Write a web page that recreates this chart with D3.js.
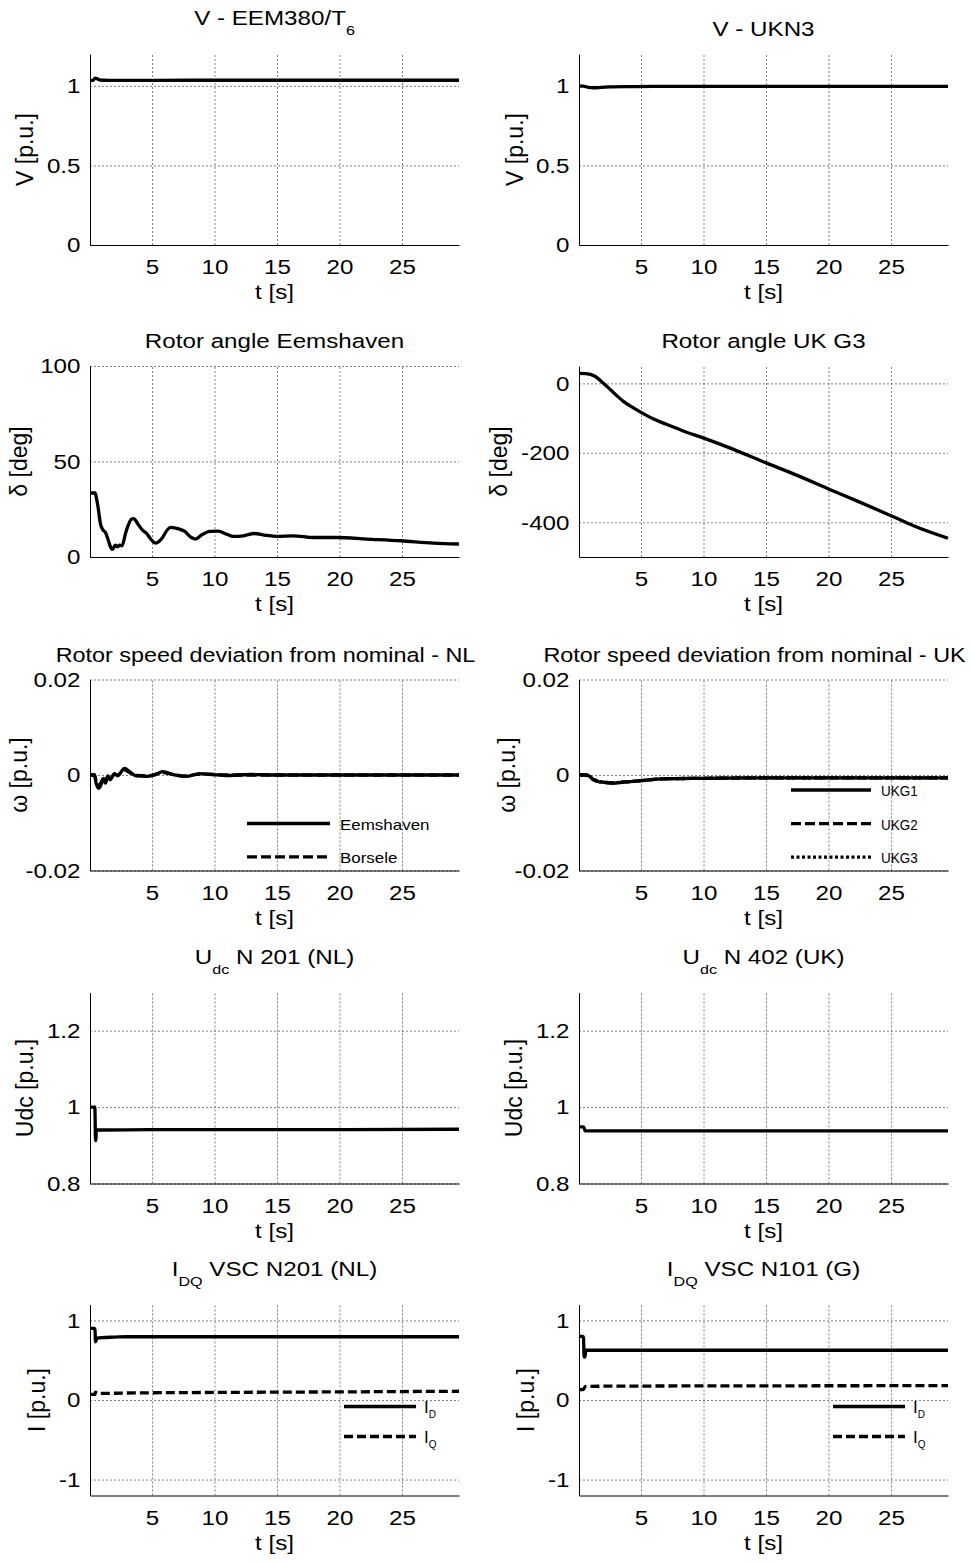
<!DOCTYPE html>
<html>
<head>
<meta charset="utf-8">
<script src="https://cdn.jsdelivr.net/npm/d3@7"></script>
<style>
body { margin: 0; background: #fff; }
text, tspan { font-family: Arial, "Liberation Sans", sans-serif; fill: #000; }
</style>
</head>
<body>
<svg id="fig" width="973" height="1565"></svg>
<script>
// ---------- data ----------
// time axis (s)
var tDomain = [0.04, 29.56];
var tTicks = [5, 10, 15, 20, 25];

// V - EEM380/T6
var tVeem = [0.04, 0.3, 0.45, 0.6, 0.8, 1.1, 1.6, 3, 8, 15, 22, 29.56];
var vVeem = [1.032, 1.035, 1.048, 1.045, 1.038, 1.035, 1.034, 1.034, 1.035, 1.035, 1.035, 1.035];
// V - UKN3
var tVuk = [0.04, 0.4, 0.8, 1.2, 1.8, 2.5, 4, 6, 15, 29.56];
var vVuk = [1.0, 0.998, 0.99, 0.988, 0.99, 0.993, 0.995, 0.996, 0.996, 0.996];

// rotor angle Eemshaven (deg)
var tDeltaNL = [0.04, 0.45, 0.55, 0.67, 0.88, 1.07, 1.28, 1.47, 1.74, 1.85, 2.06, 2.27, 2.4, 2.6, 2.9, 3.35, 3.53, 3.88, 4.22, 4.55, 4.95, 5.27, 5.75, 6.28, 6.5, 7.2, 7.6, 8.15, 8.5, 8.96, 9.63, 10.3, 10.96, 11.5, 12.3, 13.2, 14.0, 15.0, 16.3, 17.9, 19.8, 22.2, 24.9, 27.5, 29.56];
var deltaNL = [33.5, 33.5, 31, 26.7, 17.2, 14.2, 12.8, 9.4, 4.5, 4, 6.2, 5.4, 6.2, 5.9, 12.8, 19.8, 20.1, 17.2, 14.2, 12.5, 9.0, 7.3, 9.4, 14.6, 15.5, 14.6, 13.5, 10.2, 9.4, 11.5, 13.4, 13.5, 12, 10.8, 11.1, 12.3, 11.5, 10.8, 11.1, 10.2, 10.2, 9.4, 8.5, 7.3, 6.8];
// rotor angle UK G3 (deg)
var tDeltaUK = [0.04, 0.6, 1.28, 1.95, 2.75, 3.56, 4.36, 4.97, 5.96, 7.03, 8.37, 9.97, 12.4, 15.0, 17.5, 20.0, 22.5, 25.0, 26.8, 29.56];
var deltaUK = [28.8, 28, 21, 2, -25, -51, -70, -83, -102, -118, -137, -157, -190, -229, -265, -304, -342, -381, -410, -446];

// rotor speed deviation NL (p.u.)
var tWNL = [0.04, 0.4, 0.53, 0.72, 0.94, 1.12, 1.28, 1.47, 1.66, 2.0, 2.25, 2.4, 2.8, 3.2, 3.74, 4.55, 5.08, 5.88, 6.68, 7.75, 8.8, 9.9, 11, 13, 15, 29.56];
var wEemshaven = [0, 0, -0.0017, -0.0028, -0.0019, -0.0007, -0.0017, -0.0003, -0.001, 0.0003, -0.0002, 0.0002, 0.0014, 0.0007, -0.0002, -0.0003, -0.0001, 0.0007, 0.0001, -0.0003, 0.0003, 0.0001, -0.0001, 0.0001, 0, 0];
var wBorsele = [0, 0, -0.0013, -0.0022, -0.0015, -0.0006, -0.0013, -0.0002, -0.0008, 0.0002, -0.0001, 0.0002, 0.0011, 0.0005, -0.0001, -0.0002, 0, 0.0005, 0.0001, -0.0002, 0.0002, 0.0001, 0, 0, 0, 0];
// rotor speed deviation UK (p.u.)
var tWUK = [0.04, 0.6, 0.9, 1.15, 1.5, 1.95, 2.75, 3.56, 4.97, 6.76, 10, 15, 20, 29.56];
var wUKG1 = [0, 0, -0.0003, -0.0009, -0.0013, -0.0015, -0.0017, -0.0015, -0.0012, -0.0008, -0.0007, -0.0006, -0.0006, -0.0006];
var wUKG2 = [0, 0, -0.0003, -0.0009, -0.0013, -0.0015, -0.0017, -0.0015, -0.0012, -0.0008, -0.0007, -0.0006, -0.0006, -0.0006];
var wUKG3 = [0, 0, -0.0003, -0.0008, -0.0012, -0.0015, -0.0016, -0.0015, -0.0012, -0.0008, -0.0007, -0.0006, -0.0006, -0.0006];

// Udc (p.u.)
var tUdcNL = [0.04, 0.43, 0.45, 0.48, 0.51, 0.55, 1, 5, 15, 29.56];
var udcNL = [1.0, 1.0, 0.97, 0.912, 0.915, 0.94, 0.94, 0.941, 0.941, 0.942];
var tUdcUK = [0.04, 0.38, 0.45, 0.52, 1, 29.56];
var udcUK = [0.948, 0.948, 0.946, 0.938, 0.938, 0.938];

// IDQ (p.u.)
var tIdqNL = [0.04, 0.4, 0.44, 0.48, 0.55, 0.7, 1, 2, 3, 10, 20, 29.56];
var idNL = [0.9, 0.9, 0.88, 0.73, 0.76, 0.78, 0.785, 0.79, 0.795, 0.795, 0.795, 0.795];
var iqNL = [0.07, 0.07, 0.075, 0.1, 0.09, 0.08, 0.082, 0.085, 0.088, 0.095, 0.102, 0.11];
var tIdqG = [0.04, 0.36, 0.4, 0.45, 0.52, 0.58, 1, 5, 15, 29.56];
var idG = [0.8, 0.8, 0.78, 0.54, 0.54, 0.625, 0.625, 0.625, 0.625, 0.625];
var iqG = [0.13, 0.13, 0.135, 0.15, 0.165, 0.17, 0.172, 0.175, 0.178, 0.18];

// y ticks
var ticksV = [0, 0.5, 1];
var ticksDeltaNL = [0, 50, 100];
var ticksDeltaUK = [-400, -200, 0];
var ticksW = [-0.02, 0, 0.02];
var ticksUdc = [0.8, 1, 1.2];
var ticksI = [-1, 0, 1];

// ---------- layout ----------
var SX = 1.24;     // glyphs in the picture are wider than tall
var FS = 19.5;
var colX = [90, 579];
var rowY = [54, 366, 679.5, 992.5, 1304.5];
var W = 369, H = 191;

var panels = [
  {col: 0, row: 0, title: ["V - EEM380/T", "6", ""], ylabel: "V [p.u.]", yDomain: [0, 1.2], yTicks: ticksV, ylabX: -57,
   series: [{t: tVeem, v: vVeem}]},
  {col: 1, row: 0, title: ["V - UKN3"], ylabel: "V [p.u.]", yDomain: [0, 1.2], yTicks: ticksV, ylabX: -56,
   series: [{t: tVuk, v: vVuk}]},
  {col: 0, row: 1, title: ["Rotor angle Eemshaven"], ylabel: "\u03b4 [deg]", yDomain: [0, 100], yTicks: ticksDeltaNL, ylabX: -63,
   series: [{t: tDeltaNL, v: deltaNL}]},
  {col: 1, row: 1, title: ["Rotor angle UK G3"], ylabel: "\u03b4 [deg]", yDomain: [-500, 50], yTicks: ticksDeltaUK, ylabX: -72,
   series: [{t: tDeltaUK, v: deltaUK}]},
  {col: 0, row: 2, title: ["Rotor speed deviation from nominal - NL"], titleDx: -9, titleSX: 1.2, ylabel: "\u03c9 [p.u.]", yDomain: [-0.02, 0.02], yTicks: ticksW, ylabX: -63,
   series: [{t: tWNL, v: wBorsele, dash: "10,4"}, {t: tWNL, v: wEemshaven}],
   legend: {x1: 157, x2: 240, tx: 250, y0: 144, dy: 33.4, sx: 1.13, items: [{name: "Eemshaven"}, {name: "Borsele", dash: "10,4"}]}},
  {col: 1, row: 2, title: ["Rotor speed deviation from nominal - UK"], titleDx: -9, titleSX: 1.2, ylabel: "\u03c9 [p.u.]", yDomain: [-0.02, 0.02], yTicks: ticksW, ylabX: -64,
   series: [{t: tWUK, v: wUKG3, dash: "3,2.5"}, {t: tWUK, v: wUKG2, dash: "10,4"}, {t: tWUK, v: wUKG1}],
   legend: {x1: 212, x2: 292, tx: 302, y0: 110.5, dy: 33.6, sx: 0.9, items: [{name: "UKG1"}, {name: "UKG2", dash: "10,4"}, {name: "UKG3", dash: "3,2.5"}]}},
  {col: 0, row: 3, title: ["U", "dc", " N 201 (NL)"], ylabel: "Udc [p.u.]", yDomain: [0.8, 1.3], yTicks: ticksUdc, ylabX: -57,
   series: [{t: tUdcNL, v: udcNL}]},
  {col: 1, row: 3, title: ["U", "dc", " N 402 (UK)"], ylabel: "Udc [p.u.]", yDomain: [0.8, 1.3], yTicks: ticksUdc, ylabX: -57,
   series: [{t: tUdcUK, v: udcUK}]},
  {col: 0, row: 4, title: ["I", "DQ", " VSC N201 (NL)"], ylabel: "I [p.u.]", yDomain: [-1.2, 1.2], yTicks: ticksI, ylabX: -45,
   series: [{t: tIdqNL, v: iqNL, dash: "9,4"}, {t: tIdqNL, v: idNL}],
   legend: {x1: 254, x2: 326, tx: 334, y0: 102, dy: 30, sub: true, items: [{name: "I", sub: "D"}, {name: "I", sub: "Q", dash: "9,4"}]}},
  {col: 1, row: 4, title: ["I", "DQ", " VSC N101 (G)"], ylabel: "I [p.u.]", yDomain: [-1.2, 1.2], yTicks: ticksI, ylabX: -45,
   series: [{t: tIdqG, v: iqG, dash: "9,4"}, {t: tIdqG, v: idG}],
   legend: {x1: 254, x2: 326, tx: 334, y0: 102, dy: 30, sub: true, items: [{name: "I", sub: "D"}, {name: "I", sub: "Q", dash: "9,4"}]}}
];

var svg = d3.select("#fig");

panels.forEach(function(p) {
  var x0 = colX[p.col], y0 = rowY[p.row];
  var g = svg.append("g").attr("transform", "translate(" + x0 + "," + y0 + ")");
  var x = d3.scaleLinear().domain(tDomain).range([0, W]);
  var y = d3.scaleLinear().domain(p.yDomain).range([H, 0]);

  // grid
  var gx = g.append("g").attr("transform", "translate(0," + H + ")")
    .call(d3.axisBottom(x).tickValues(tTicks).tickSize(-H).tickFormat(""));
  var gy = g.append("g")
    .call(d3.axisLeft(y).tickValues(p.yTicks).tickSize(-W).tickFormat(""));
  [gx, gy].forEach(function(s) {
    s.select(".domain").remove();
    s.selectAll("line").attr("stroke", "#606060").attr("stroke-width", 0.8).attr("stroke-dasharray", "2,2");
  });

  // curves
  var line = d3.line().x(function(d) { return x(d[0]); }).y(function(d) { return y(d[1]); }).curve(d3.curveMonotoneX);
  p.series.forEach(function(s) {
    var pts = s.t.map(function(t, i) { return [t, s.v[i]]; });
    g.append("path").datum(pts).attr("d", line)
      .attr("fill", "none").attr("stroke", "#000").attr("stroke-width", 3.3)
      .attr("stroke-linejoin", "round")
      .attr("stroke-dasharray", s.dash || null);
  });

  // axes
  var ax = g.append("g").attr("transform", "translate(0," + H + ")")
    .call(d3.axisBottom(x).tickValues(tTicks).tickSize(0).tickSizeOuter(0).tickFormat(function(d) { return String(d); }));
  var ay = g.append("g")
    .call(d3.axisLeft(y).tickValues(p.yTicks).tickSize(0).tickSizeOuter(0).tickFormat(function(d) { return String(d); }));
  [ax, ay].forEach(function(s) {
    s.attr("font-size", null).attr("font-family", null);
    s.select(".domain").attr("stroke", "#000").attr("stroke-width", 1);
  });
  ax.selectAll("text").attr("y", 0).attr("dy", 0).attr("x", 0).attr("fill", "#000")
    .attr("transform", "translate(0,29) scale(" + SX + ",1)")
    .style("font-size", FS + "px");
  ay.selectAll("text").attr("x", 0).attr("dy", "0.35em").attr("text-anchor", "end").attr("fill", "#000")
    .attr("transform", "translate(-9.5,0) scale(" + SX + ",1)")
    .style("font-size", FS + "px");

  // x label
  g.append("text").attr("text-anchor", "middle")
    .attr("transform", "translate(" + (W / 2) + "," + (H + 54) + ") scale(" + SX + ",1)")
    .style("font-size", FS + "px").text("t [s]");

  // y label
  g.append("text").attr("text-anchor", "middle")
    .attr("transform", "translate(" + p.ylabX + "," + (H / 2) + ") rotate(-90)")
    .style("font-size", "23px").text(p.ylabel);

  // title
  var hasSub = p.title.length > 1;
  var ttl = g.append("text").attr("text-anchor", "middle")
    .attr("transform", "translate(" + (W / 2 + (p.titleDx || 0)) + "," + (hasSub ? -29 : -18) + ") scale(" + (p.titleSX || SX) + ",1)")
    .style("font-size", FS + "px");
  ttl.append("tspan").text(p.title[0]);
  if (hasSub) {
    ttl.append("tspan").attr("dy", 10).style("font-size", "13px").text(p.title[1]);
    if (p.title[2]) ttl.append("tspan").attr("dy", -10).style("font-size", FS + "px").text(p.title[2]);
  }

  // legend (no box)
  if (p.legend) {
    var L = p.legend;
    L.items.forEach(function(it, i) {
      var ly = L.y0 + i * L.dy;
      g.append("line").attr("x1", L.x1).attr("x2", L.x2).attr("y1", ly).attr("y2", ly)
        .attr("stroke", "#000").attr("stroke-width", 3.3).attr("stroke-dasharray", it.dash || null);
      if (L.sub) {
        var lt = g.append("text").attr("transform", "translate(" + L.tx + "," + (ly + 6) + ")")
          .attr("fill", "#000").style("font-size", "17px");
        lt.append("tspan").attr("fill", "#000").text(it.name);
        lt.append("tspan").attr("dy", 5).attr("fill", "#000").style("font-size", "10px").text(it.sub);
      } else {
        g.append("text").attr("transform", "translate(" + L.tx + "," + (ly + 6) + ") scale(" + L.sx + ",1)")
          .attr("fill", "#000").style("font-size", "15px").text(it.name);
      }
    });
  }
});
</script>
</body>
</html>
